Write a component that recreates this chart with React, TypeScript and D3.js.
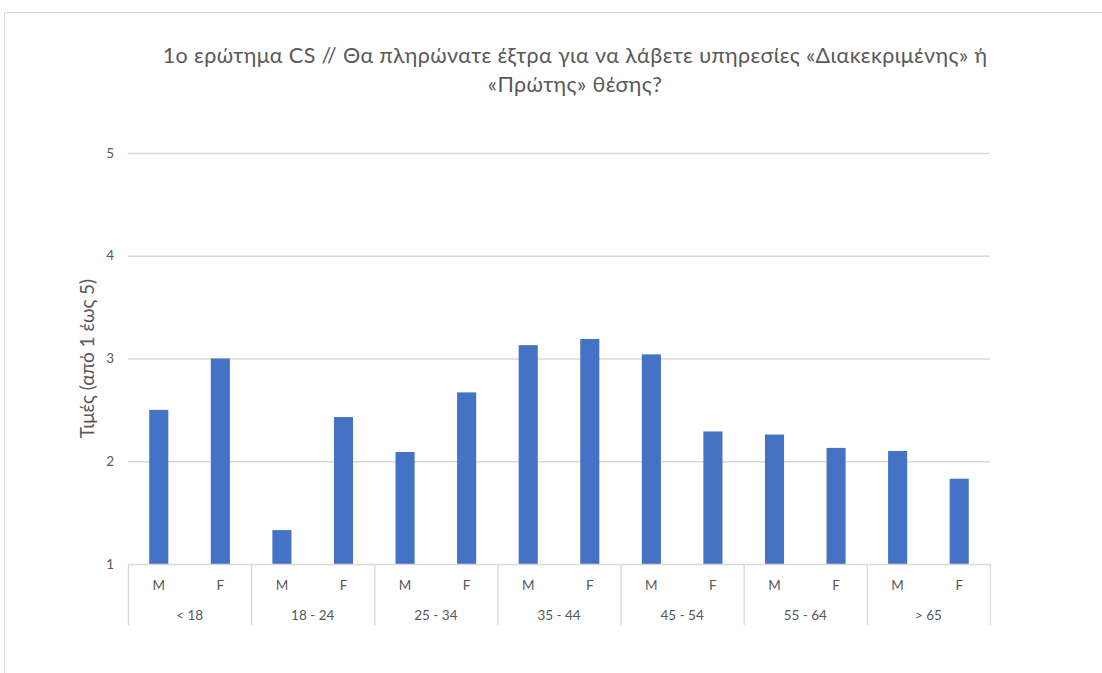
import React from 'react';
import * as d3 from 'd3';

const ageGroups = ['< 18', '18 - 24', '25 - 34', '35 - 44', '45 - 54', '55 - 64', '> 65'];
const genders = ['M', 'F'];
const maleValues = [2.5, 1.33, 2.09, 3.13, 3.04, 2.26, 2.1];
const femaleValues = [3.0, 2.43, 2.67, 3.19, 2.29, 2.13, 1.83];
const yTicks = [1, 2, 3, 4, 5];

const titleLines = [
    '1ο ερώτημα CS // Θα πληρώνατε έξτρα για να λάβετε υπηρεσίες «Διακεκριμένης» ή',
    '«Πρώτης» θέσης?'
];
const yLabel = 'Τιμές (από 1 έως 5)';

const W = 1102;
const H = 673;
const FONT = 'Lato, "Open Sans", sans-serif';
const TEXT = '#595959';
const GRID = '#d9d9d9';

export default function App() {
    const left = 128;
    const right = 990;
    const top = 153;
    const bottom = 564;

    const rows = ageGroups.flatMap((g, i) => [
        { key: `${g}|M`, group: g, gender: genders[0], value: maleValues[i] },
        { key: `${g}|F`, group: g, gender: genders[1], value: femaleValues[i] }
    ]);

    const x = d3.scaleBand<string>()
        .domain(rows.map((d) => d.key))
        .range([left, right])
        .paddingInner(0.69)
        .paddingOuter(0.345);
    const groupX = d3.scaleBand<string>().domain(ageGroups).range([left, right]);
    const y = d3.scaleLinear().domain([1, 5]).range([bottom, top]);

    return (
        <svg width={W} height={H} style={{ position: 'absolute', left: 0, top: 0 }} fontFamily={FONT}>
            <rect x={0} y={0} width={W} height={H} fill='#fff' />
            <rect x={4.5} y={12.5} width={W + 10} height={H + 10} fill='none' stroke={GRID} />

            {titleLines.map((t, i) => (
                <text key={i} x={575} y={63 + i * 29} textAnchor='middle' fontSize={21.5} letterSpacing={0.4} fill={TEXT}>
                    {t}
                </text>
            ))}

            {yTicks.map((t) => (
                <g key={t}>
                    {t > 1 && <line x1={left} x2={right} y1={y(t) + 0.5} y2={y(t) + 0.5} stroke={GRID} strokeWidth={1.3} />}
                    <text x={114} y={y(t)} dy='0.35em' textAnchor='end' fontSize={13.5} fill={TEXT}>{t}</text>
                </g>
            ))}

            <text
                transform={`translate(94,${(top + bottom) / 2}) rotate(-90)`}
                textAnchor='middle'
                fontSize={19}
                fill={TEXT}
            >
                {yLabel}
            </text>

            {rows.map((d) => (
                <rect
                    key={d.key}
                    x={x(d.key)}
                    y={y(d.value)}
                    width={x.bandwidth()}
                    height={y(1) - y(d.value)}
                    fill='#4472c4'
                />
            ))}

            <line x1={left} x2={right} y1={bottom + 0.5} y2={bottom + 0.5} stroke={GRID} strokeWidth={1.3} />
            {[...ageGroups.map((g) => groupX(g) as number), right].map((bx, i) => (
                <line key={i} x1={bx + 0.5} x2={bx + 0.5} y1={bottom} y2={625} stroke={GRID} strokeWidth={1.3} />
            ))}

            {rows.map((d) => (
                <text
                    key={d.key}
                    x={(x(d.key) as number) + x.bandwidth() / 2}
                    y={585}
                    dy='0.35em'
                    textAnchor='middle'
                    fontSize={13.5}
                    fill={TEXT}
                >
                    {d.gender}
                </text>
            ))}
            {ageGroups.map((g) => (
                <text
                    key={g}
                    x={(groupX(g) as number) + groupX.bandwidth() / 2}
                    y={615}
                    dy='0.35em'
                    textAnchor='middle'
                    fontSize={13.5}
                    fill={TEXT}
                >
                    {g}
                </text>
            ))}
        </svg>
    );
}
